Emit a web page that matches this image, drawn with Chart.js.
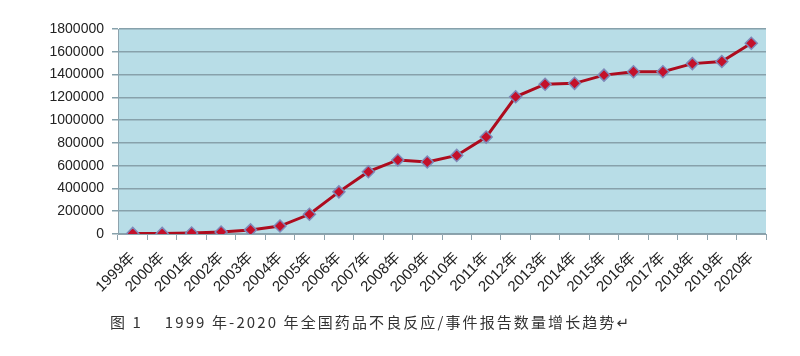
<!DOCTYPE html>
<html><head><meta charset="utf-8">
<script src="https://cdn.jsdelivr.net/npm/chart.js@4/dist/chart.umd.min.js"></script>
<style>
html,body{margin:0;padding:0;background:#fff;}
#wrap{position:relative;width:800px;height:356px;}
#c{position:absolute;left:0;top:0;}
#cap{position:absolute;left:110px;top:311px;font-family:"Noto Sans CJK SC","DejaVu Sans",sans-serif;font-size:15px;color:#333;white-space:pre;letter-spacing:2.1px;}
</style></head>
<body><div id="wrap"><canvas id="c" width="800" height="356"></canvas><div id="cap"></div></div>
<script>
const categories = ["1999年","2000年","2001年","2002年","2003年","2004年","2005年","2006年","2007年","2008年","2009年","2010年","2011年","2012年","2013年","2014年","2015年","2016年","2017年","2018年","2019年","2020年"];
const reports = [5000,5000,9000,17000,36000,70000,173000,370000,547000,650000,632000,690000,851000,1205000,1315000,1323000,1395000,1425000,1425000,1496000,1515000,1675000];
const yTicks = [0,200000,400000,600000,800000,1000000,1200000,1400000,1600000,1800000];
const captionText = "图 1    1999 年-2020 年全国药品不良反应/事件报告数量增长趋势↵";

document.getElementById('cap').textContent = captionText;

const bgPlugin = {
  id:'bg',
  beforeDraw(chart){
    const a = chart.chartArea, ctx = chart.ctx;
    ctx.save();
    ctx.fillStyle = '#b8dde7';
    ctx.fillRect(a.left, a.top, a.right-a.left, a.bottom-a.top);
    ctx.restore();
  }
};

new Chart(document.getElementById('c'), {
  type:'line',
  data:{labels:categories, datasets:[{
    data:reports,
    borderColor:'#ad0c1e',
    borderWidth:3,
    tension:0,
    pointStyle:'rectRot',
    pointRadius:6,
    pointBackgroundColor:'#c4102a',
    pointBorderColor:'#7e88b8',
    pointBorderWidth:1.5
  }]},
  options:{
    responsive:false, animation:false,
    layout:{padding:{left:0,right:34,top:29,bottom:0}},
    plugins:{legend:{display:false}, tooltip:{enabled:false}},
    scales:{
      x:{
        offset:true,
        grid:{offset:true, drawOnChartArea:false, drawTicks:true, tickLength:6, color:'#8ea3ad', lineWidth:1},
        border:{display:true, color:'#8ea3ad', width:1},
        ticks:{minRotation:45, maxRotation:45, autoSkip:false, color:'#222', font:{family:'"Liberation Sans","Noto Sans CJK SC",sans-serif', size:15}, padding:9},
        afterFit(s){ s.height = 122; }
      },
      y:{
        min:0, max:1800000,
        afterBuildTicks(s){ s.ticks = yTicks.map(v=>({value:v})); },
        grid:{color:'#87a1ab', lineWidth:1.5, tickLength:6, drawTicks:true},
        border:{display:true, color:'#8ea3ad', width:1},
        ticks:{color:'#222', font:{family:'"Liberation Sans",sans-serif', size:14}, padding:8, callback:v=>String(v)},
        afterFit(s){ s.width = 118; }
      }
    }
  },
  plugins:[bgPlugin]
});
</script>
</body></html>
